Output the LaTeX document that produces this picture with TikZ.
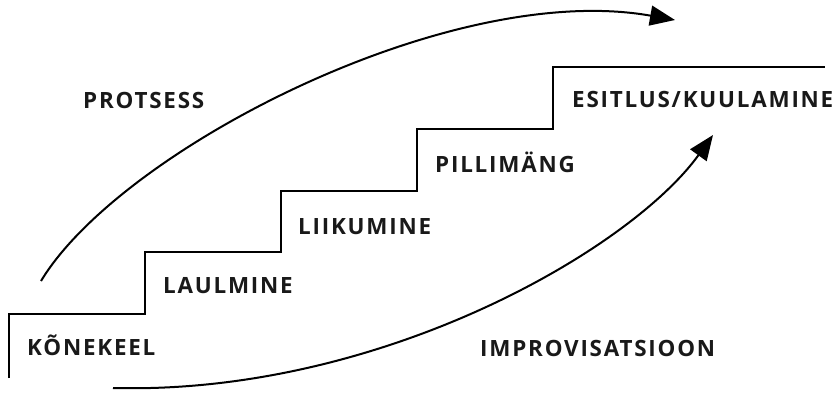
\documentclass[tikz,border=0pt]{standalone}
\usepackage{fontspec}
\setmainfont{Open Sans}[BoldFont={* Bold}]
\newfontfamily\labelfont{Open Sans Bold}[LetterSpace=8]
\usetikzlibrary{arrows.meta}
\begin{document}
\begin{tikzpicture}[x=1pt,y=-1pt,
  stairline/.style={line width=2.3pt, line join=miter},
  flow/.style={line width=2pt, -{Triangle[length=25pt,width=20pt]}},
  steplabel/.style={anchor=base west, inner sep=0pt, font=\labelfont\fontsize{22.4}{24}\selectfont, text=black!90}]
\useasboundingbox (0,0) rectangle (836,394);

% staircase corners
\coordinate (s0) at (9,378);
\coordinate (s1) at (9,314);
\coordinate (s2) at (145,314);
\coordinate (s3) at (145,252);
\coordinate (s4) at (281,252);
\coordinate (s5) at (281,191);
\coordinate (s6) at (417,191);
\coordinate (s7) at (417,129);
\coordinate (s8) at (553,129);
\coordinate (s9) at (553,67);
\coordinate (s10) at (825,67);
\draw[stairline] (s0) -- (s1) -- (s2) -- (s3) -- (s4) -- (s5) -- (s6) -- (s7) -- (s8) -- (s9) -- (s10);

% step labels
\node[steplabel] (kone) at (27,355) {KÕNEKEEL};
\node[steplabel] (laul) at (163,293) {LAULMINE};
\node[steplabel] (liik) at (298,234) {LIIKUMINE};
\node[steplabel] (pill) at (435,172) {PILLIMÄNG};
\node[steplabel] (esit) at (572,107) {ESITLUS/KUULAMINE};

% side labels
\node[steplabel] (prot) at (83,108) {PROTSESS};
\node[steplabel] (impr) at (480,356) {IMPROVISATSIOON};

% curved arrows
\coordinate (a0) at (41,281);
\coordinate (a1) at (675,20);
\draw[flow] (a0) .. controls (120,150) and (450,-20) .. (a1);
\coordinate (b0) at (113,388);
\coordinate (b1) at (713,135);
\draw[flow] (b0) .. controls (380,395) and (630,250) .. (b1);
\end{tikzpicture}
\end{document}
